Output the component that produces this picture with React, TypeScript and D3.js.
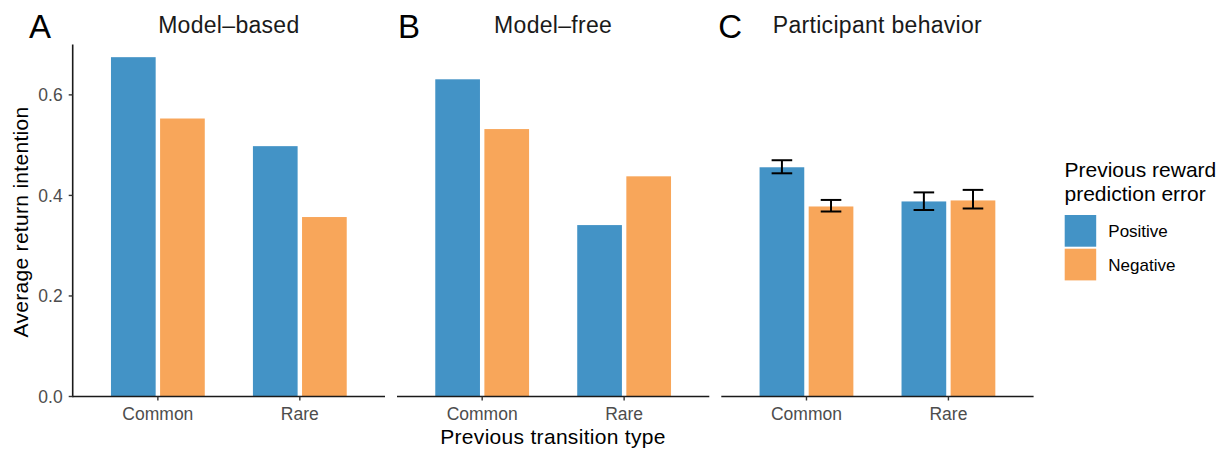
import React from "react";
import * as d3 from "d3";

// chart values
const categories = ["Common", "Rare"];
const groups = ["Positive", "Negative"];
const panelLetters = ["A", "B", "C"];
const panelTitles = ["Model–based", "Model–free", "Participant behavior"];

const modelBasedPositive = [0.675, 0.498];
const modelBasedNegative = [0.553, 0.357];
const modelFreePositive = [0.631, 0.341];
const modelFreeNegative = [0.532, 0.438];
const participantPositive = [0.456, 0.388];
const participantNegative = [0.378, 0.39];
const participantPositiveLow = [0.444, 0.371];
const participantPositiveHigh = [0.47, 0.406];
const participantNegativeLow = [0.368, 0.374];
const participantNegativeHigh = [0.391, 0.411];

const yTicks = [0, 0.2, 0.4, 0.6];
const legendTitle = ["Previous reward", "prediction error"];
const xTitle = "Previous transition type";
const yTitle = "Average return intention";

const colors: Record<string, string> = { Positive: "#4393c6", Negative: "#f8a65a" };
const font = "'Liberation Sans', Arial, Helvetica, sans-serif";

const panels = [
  { values: [modelBasedPositive, modelBasedNegative], err: null as null | number[][][] },
  { values: [modelFreePositive, modelFreeNegative], err: null as null | number[][][] },
  {
    values: [participantPositive, participantNegative],
    err: [
      [participantPositiveLow, participantPositiveHigh],
      [participantNegativeLow, participantNegativeHigh],
    ],
  },
];

export default function App() {
  const width = 1226;
  const height = 449;
  const left = 72.7;
  const panelW = 312.3;
  const panelGap = 12;
  const bottom = 396.5;

  const y = d3.scaleLinear().domain([0, 0.7]).range([bottom, bottom - 0.7 * 502.7]);
  const sub = d3.scaleBand().domain(groups).range([-46.9, 46.9]).paddingInner(0.09);

  return (
    <svg
      width={width}
      height={height}
      style={{ position: "absolute", left: 0, top: 0, display: "block", background: "#fff" }}
      fontFamily={font}
    >
      {panels.map((p, pi) => {
        const x0 = left + pi * (panelW + panelGap);
        const x1 = x0 + panelW;
        const x = d3.scalePoint().domain(categories).range([x0, x1]).padding(0.6);
        return (
          <g key={pi}>
            <text x={pi === 0 ? 29 : x0 + 1 - (pi === 2 ? 4 : 0)} y={37.5} fontSize={33} fill="#000">
              {panelLetters[pi]}
            </text>
            <text x={(x0 + x1) / 2} y={33} fontSize={23} letterSpacing={0.3} textAnchor="middle" fill="#1a1a1a">
              {panelTitles[pi]}
            </text>
            {categories.map((c, ci) =>
              groups.map((g, gi) => {
                const v = p.values[gi][ci];
                const bx = (x(c) as number) + (sub(g) as number);
                return (
                  <rect
                    key={c + g}
                    x={bx}
                    y={y(v)}
                    width={sub.bandwidth()}
                    height={bottom - y(v)}
                    fill={colors[g]}
                  />
                );
              })
            )}
            {p.err &&
              categories.map((c, ci) =>
                groups.map((g, gi) => {
                  const cx = (x(c) as number) + (sub(g) as number) + sub.bandwidth() / 2;
                  const lo = y(p.err![gi][0][ci]);
                  const hi = y(p.err![gi][1][ci]);
                  const hw = 10.3;
                  return (
                    <g key={"e" + c + g} stroke="#000" strokeWidth={2} fill="none">
                      <line x1={cx} x2={cx} y1={lo} y2={hi} />
                      <line x1={cx - hw} x2={cx + hw} y1={lo} y2={lo} />
                      <line x1={cx - hw} x2={cx + hw} y1={hi} y2={hi} />
                    </g>
                  );
                })
              )}
            <line x1={x0} x2={x1} y1={bottom} y2={bottom} stroke="#1a1a1a" strokeWidth={1.6} />
            {categories.map((c) => (
              <g key={"t" + c}>
                <line x1={x(c)} x2={x(c)} y1={bottom} y2={bottom + 4} stroke="#333" strokeWidth={1.4} />
                <text x={x(c)} y={420} fontSize={17.5} textAnchor="middle" fill="#4d4d4d">
                  {c}
                </text>
              </g>
            ))}
            {pi === 0 && (
              <g>
                <line x1={x0} x2={x0} y1={bottom + 0.8} y2={y(0.7)} stroke="#1a1a1a" strokeWidth={1.6} />
                {yTicks.map((t) => (
                  <g key={"y" + t}>
                    <line x1={x0 - 4} x2={x0} y1={y(t)} y2={y(t)} stroke="#333" strokeWidth={1.4} />
                    <text x={x0 - 10} y={y(t)} dy="0.36em" fontSize={17.5} textAnchor="end" fill="#4d4d4d">
                      {d3.format(".1f")(t)}
                    </text>
                  </g>
                ))}
              </g>
            )}
          </g>
        );
      })}
      <text x={553} y={443.5} fontSize={21} letterSpacing={0.3} textAnchor="middle" fill="#000">
        {xTitle}
      </text>
      <text transform="rotate(-90)" x={-222} y={28} fontSize={21} letterSpacing={0.3} textAnchor="middle" fill="#000">
        {yTitle}
      </text>
      <g>
        {legendTitle.map((t, i) => (
          <text key={t} x={1064.5} y={176.7 + i * 24.5} fontSize={21} fill="#000">
            {t}
          </text>
        ))}
        {groups.map((g, i) => (
          <g key={"l" + g}>
            <rect x={1064.7} y={215 + i * 33.7} width={31.5} height={31.7} fill={colors[g]} />
            <text x={1108.3} y={231 + i * 33.7} dy="0.36em" fontSize={17} fill="#000">
              {g}
            </text>
          </g>
        ))}
      </g>
    </svg>
  );
}
